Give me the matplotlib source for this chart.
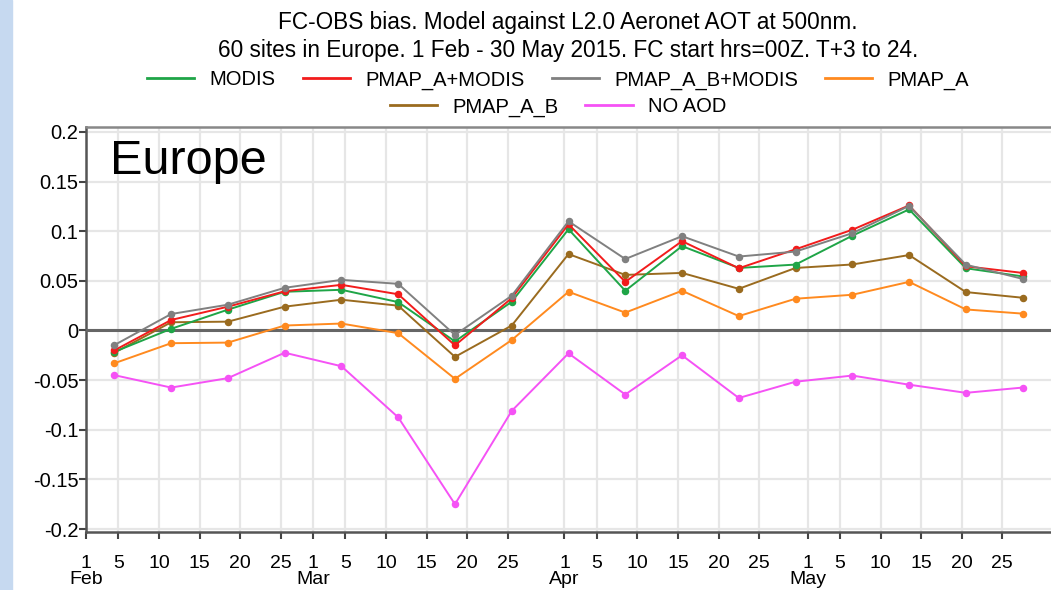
import matplotlib
matplotlib.use("Agg")
import matplotlib.pyplot as plt
import matplotlib.dates as mdates
from matplotlib.lines import Line2D
from matplotlib.patches import Rectangle
import datetime as dt

# ---------------- data ----------------
dates = ["2015-02-04 12:00", "2015-02-11 12:00", "2015-02-18 12:00", "2015-02-25 12:00",
         "2015-03-04 12:00", "2015-03-11 12:00", "2015-03-18 12:00", "2015-03-25 12:00",
         "2015-04-01 12:00", "2015-04-08 12:00", "2015-04-15 12:00", "2015-04-22 12:00",
         "2015-04-29 12:00", "2015-05-06 12:00", "2015-05-13 12:00", "2015-05-20 12:00",
         "2015-05-27 12:00"]

modis = [-0.0215, 0.0017, 0.021, 0.039, 0.041, 0.0286, -0.011, 0.029,
         0.102, 0.040, 0.085, 0.063, 0.0664, 0.0955, 0.122, 0.0627, 0.0545]
pmap_a_modis = [-0.020, 0.0106, 0.024, 0.0395, 0.046, 0.0365, -0.015, 0.0326,
                0.107, 0.049, 0.090, 0.0627, 0.0818, 0.1015, 0.126, 0.0647, 0.058]
pmap_a_b_modis = [-0.0147, 0.0166, 0.026, 0.043, 0.051, 0.047, -0.0045, 0.035,
                  0.110, 0.072, 0.095, 0.0745, 0.0795, 0.098, 0.1255, 0.0663, 0.052]
pmap_a = [-0.033, -0.0128, -0.0122, 0.005, 0.007, -0.0027, -0.0487, -0.0096,
          0.039, 0.018, 0.040, 0.0145, 0.032, 0.036, 0.049, 0.0212, 0.017]
pmap_a_b = [-0.0224, 0.0083, 0.0089, 0.024, 0.031, 0.025, -0.0266, 0.005,
            0.077, 0.056, 0.058, 0.042, 0.063, 0.0665, 0.076, 0.0387, 0.033]
no_aod = [-0.045, -0.0575, -0.048, -0.0224, -0.036, -0.0875, -0.175, -0.081,
          -0.023, -0.0645, -0.025, -0.068, -0.0516, -0.0454, -0.0546, -0.0628, -0.0575]

series_names = ["MODIS", "PMAP_A+MODIS", "PMAP_A_B+MODIS", "PMAP_A", "PMAP_A_B", "NO AOD"]
y_ticks = [0.2, 0.15, 0.1, 0.05, 0, -0.05, -0.1, -0.15, -0.2]
y_tick_labels = ["0.2", "0.15", "0.1", "0.05", "0", "-0.05", "-0.1", "-0.15", "-0.2"]
tick_days = [1, 5, 10, 15, 20, 25]
months = [(2, "Feb"), (3, "Mar"), (4, "Apr"), (5, "May")]

title1 = "FC-OBS bias. Model against L2.0 Aeronet AOT at 500nm."
title2 = "60 sites in Europe. 1 Feb - 30 May 2015. FC start hrs=00Z. T+3 to 24."
region_label = "Europe"

# ---------------- style ----------------
colors = {
    "MODIS": "#1fa547",
    "PMAP_A+MODIS": "#f21c1c",
    "PMAP_A_B+MODIS": "#808080",
    "PMAP_A": "#ff8a1f",
    "PMAP_A_B": "#9a6b1f",
    "NO AOD": "#f552f5",
}
FONT = ["Liberation Sans", "DejaVu Sans"]
plt.rcParams["font.family"] = FONT

x = [dt.datetime.strptime(d, "%Y-%m-%d %H:%M") for d in dates]
values = {
    "MODIS": modis,
    "PMAP_A+MODIS": pmap_a_modis,
    "PMAP_A_B+MODIS": pmap_a_b_modis,
    "PMAP_A": pmap_a,
    "PMAP_A_B": pmap_a_b,
    "NO AOD": no_aod,
}

fig = plt.figure(figsize=(10.51, 5.90), dpi=100)
fig.patches.append(Rectangle((0, 0), 12 / 1051, 1, transform=fig.transFigure,
                             color="#c6d9f0", zorder=0))

ax = fig.add_axes([86 / 1051, 1 - 532 / 590, 1 - 86 / 1051, (532 - 127) / 590])

draw_order = ["NO AOD", "PMAP_A", "PMAP_A_B", "MODIS", "PMAP_A+MODIS", "PMAP_A_B+MODIS"]
for name in draw_order:
    ax.plot(x, values[name], color=colors[name], lw=1.4, marker="o", ms=4.4,
            mec=colors[name], zorder=4)

ax.axhline(0, color="#666666", lw=2.2, zorder=3)

ax.set_xlim(dt.datetime(2015, 2, 1), dt.datetime(2015, 5, 31))
ax.set_ylim(-0.203, 0.205)

# x ticks
xt = []
xl = []
for m, _ in months:
    for d in tick_days:
        xt.append(dt.datetime(2015, m, d))
        xl.append(str(d))
ax.set_xticks(xt)
ax.set_xticklabels(xl, fontsize=14)
for m, lab in months:
    ax.annotate(lab, xy=(mdates.date2num(dt.datetime(2015, m, 1)), 0),
                xycoords=("data", "axes fraction"), xytext=(0, -34.5),
                textcoords="offset points", ha="center", va="center", fontsize=14)

ax.set_yticks(y_ticks)
ax.set_yticklabels(y_tick_labels, fontsize=14.5)

ax.tick_params(axis="x", direction="out", length=5, width=1.5, color="#444444", pad=11.5)
ax.tick_params(axis="y", direction="out", length=5, width=1.5, color="#444444", pad=0.5)

ax.grid(True, color="#e6e6e6", lw=1.6, zorder=0)
ax.set_axisbelow(True)

for s in ["left", "bottom"]:
    ax.spines[s].set_color("#555555")
    ax.spines[s].set_linewidth(1.8)
ax.spines["top"].set_color("#888888")
ax.spines["top"].set_linewidth(1.8)
ax.spines["right"].set_visible(False)

ax.text(0.0249, 0.884, region_label, transform=ax.transAxes, fontsize=35,
        ha="left", va="baseline")

# titles
fig.text(568 / 1051, 1 - 22 / 590, title1, ha="center", va="center", fontsize=16.3)
fig.text(568 / 1051, 1 - 50 / 590, title2, ha="center", va="center", fontsize=16.3)

# legends
def handles(names):
    return [Line2D([0], [0], color=colors[n], lw=2) for n in names]

row1 = series_names[:4]
row2 = series_names[4:]
fig.legend(handles(row1), row1, loc="center", bbox_to_anchor=(558 / 1051, 1 - 80 / 590),
           ncol=4, frameon=False, fontsize=14.5, handlelength=2.35,
           handletextpad=0.75, columnspacing=1.35, borderpad=0, borderaxespad=0)
fig.legend(handles(row2), row2, loc="center", bbox_to_anchor=(558 / 1051, 1 - 107 / 590),
           ncol=2, frameon=False, fontsize=14.5, handlelength=2.35,
           handletextpad=0.75, columnspacing=1.35, borderpad=0, borderaxespad=0)

fig.savefig("out.png", dpi=100)
